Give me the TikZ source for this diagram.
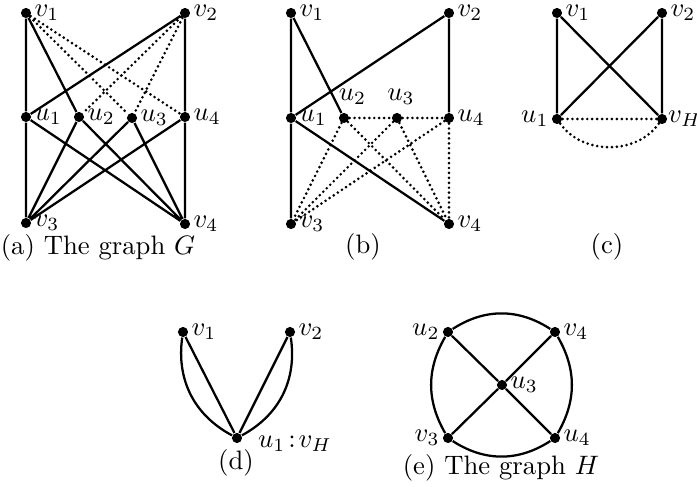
\documentclass[tikz,border=0pt]{standalone}
\begin{document}
\begin{tikzpicture}[x=0.375pt,y=-0.375pt,
  vtx/.style={circle,fill=black,inner sep=0pt,minimum size=3.8pt},
  e/.style={line width=0.85pt},
  dt/.style={line width=1.1pt,line cap=round,dash pattern=on 0pt off 1.85pt},
  every label/.style={inner sep=0.6pt},
  lr/.style={label={[label distance=0.3pt]right:#1}},
  ll/.style={label={[label distance=0.3pt]left:#1}},
  captext/.style={inner sep=0pt}]
\useasboundingbox (0,0) rectangle (697,487);
% (a)
\node[vtx,lr=$v_1$] (av1) at (26,13) {};
\node[vtx,lr=$v_2$] (av2) at (185,13) {};
\node[vtx,lr=$u_1$] (au1) at (26,117) {};
\node[vtx,lr=$u_2$] (au2) at (79,117) {};
\node[vtx,lr=$u_3$] (au3) at (132,118) {};
\node[vtx,lr=$u_4$] (au4) at (185,117) {};
\node[vtx,lr=$v_3$] (av3) at (26,223) {};
\node[vtx,lr=$v_4$] (av4) at (185,224) {};
\draw[e] (av1)--(au1) (au1)--(av3) (av2)--(au4) (au4)--(av4)
  (av1)--(au2) (av2)--(au1)
  (au1)--(av4) (au2)--(av3) (au2)--(av4) (au3)--(av3) (au3)--(av4) (au4)--(av3);
\draw[dt] (av1)--(au3) (av1)--(au4) (av2)--(au2) (av2)--(au3);
\node[captext] (capa) at (98,248) {(a) The graph $G$};
% (b)
\node[vtx,lr=$v_1$] (bv1) at (291,13) {};
\node[vtx,lr=$v_2$] (bv2) at (449,13) {};
\node[vtx,lr=$u_1$] (bu1) at (291,118) {};
\node[vtx,label={[label distance=2pt,xshift=3.2pt]above:$u_2$}] (bu2) at (344,118) {};
\node[vtx,label={[label distance=2pt,xshift=1.5pt]above:$u_3$}] (bu3) at (397,118) {};
\node[vtx,lr=$u_4$] (bu4) at (449,118) {};
\node[vtx,lr=$v_3$] (bv3) at (291,224) {};
\node[vtx,lr=$v_4$] (bv4) at (449,224) {};
\draw[e] (bv1)--(bu1) (bu1)--(bv3) (bv1)--(bu2) (bv2)--(bu1) (bv2)--(bu4) (bu1)--(bv4);
\draw[dt] (bu2)--(bu3) (bu3)--(bu4) (bu2)--(bv3) (bu2)--(bv4) (bu3)--(bv3) (bu3)--(bv4)
  (bu4)--(bv3) (bu4)--(bv4);
\node[captext] (capb) at (363,247) {(b)};
% (c)
\node[vtx,lr=$v_1$] (cv1) at (557,13) {};
\node[vtx,lr=$v_2$] (cv2) at (662,13) {};
\node[vtx,ll=$u_1$] (cu1) at (557,119) {};
\node[vtx,label={[label distance=-0.6pt]right:$v_H$}] (cvh) at (662,119) {};
\draw[e] (cv1)--(cu1) (cv1)--(cvh) (cv2)--(cu1) (cv2)--(cvh);
\draw[dt] (cu1)--(cvh);
\draw[dt] (cu1) to[bend right=55] (cvh);
\node[captext] (capc) at (607,247) {(c)};
% (d)
\node[vtx,lr=$v_1$] (dv1) at (183,332) {};
\node[vtx,lr=$v_2$] (dv2) at (290,332) {};
\node[vtx,label={[label distance=5pt,yshift=-2pt]right:$u_1\!:\!v_H$}] (dw) at (237,438) {};
\draw[e] (dv1)--(dw) (dv2)--(dw);
\draw[e] (dv1) to[bend right=35] (dw);
\draw[e] (dv2) to[bend left=35] (dw);
\node[captext] (capd) at (236,463) {(d)};
% (e)
\node[vtx,ll=$u_2$] (eu2) at (448,332) {};
\node[vtx,lr=$v_4$] (ev4) at (555,332) {};
\node[vtx,lr=$u_3$] (eu3) at (502,385) {};
\node[vtx,ll=$v_3$] (ev3) at (448,438) {};
\node[vtx,lr=$u_4$] (eu4) at (555,438) {};
\draw[e] (eu2)--(eu3) (ev4)--(eu3) (ev3)--(eu3) (eu4)--(eu3);
\draw[e] (eu2) to[bend left=33] (ev4);
\draw[e] (ev4) to[bend left=30] (eu4);
\draw[e] (eu4) to[bend left=33] (ev3);
\draw[e] (ev3) to[bend left=30] (eu2);
\node[captext] (cape) at (501,468) {(e) The graph $H$};
\end{tikzpicture}
\end{document}
